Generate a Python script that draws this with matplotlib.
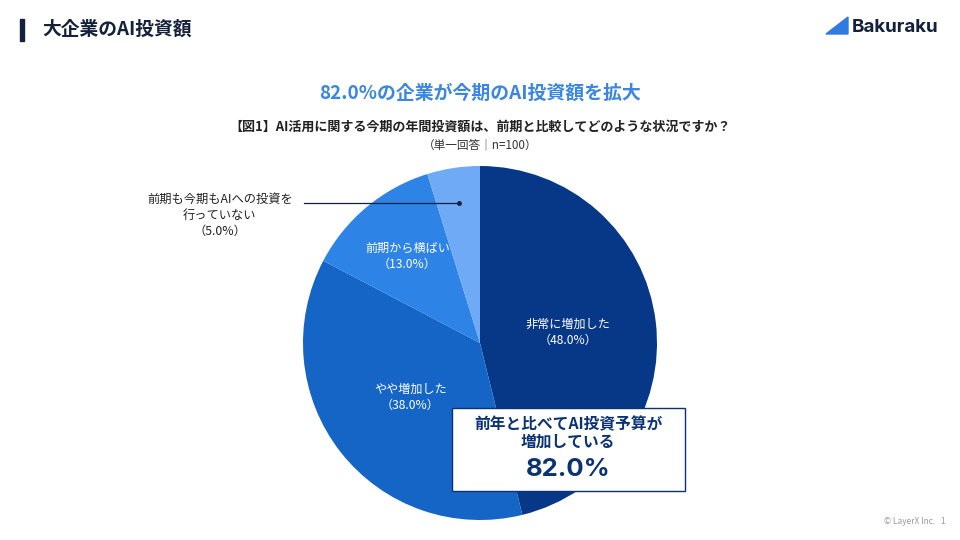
import matplotlib
matplotlib.use("Agg")
import matplotlib.pyplot as plt
from matplotlib.patches import Rectangle, Polygon
import numpy as np

plt.rcParams['font.family'] = ['Noto Sans CJK JP', 'DejaVu Sans']

# データ
categories = ["非常に増加した", "やや増加した", "前期から横ばい", "前期も今期もAIへの投資を\n行っていない"]
values = [48.0, 38.0, 13.0, 5.0]
colors = ["#073887", "#1565C6", "#2D84E6", "#6FAAF7"]
increase_total = 82.0

navy = "#14213D"
box_navy = "#0B3275"

fig = plt.figure(figsize=(9.6, 5.4), dpi=100)

# ヘッダー
fig.patches.append(Rectangle((20 / 960, 1 - 41 / 540), 4 / 960, 22 / 540,
                             transform=fig.transFigure, color=navy))
fig.text(42 / 960, 1 - 29 / 540, "大企業のAI投資額", fontsize=13.5, fontweight="bold",
         color=navy, va="center", ha="left")

# ロゴ
tri = Polygon([(826 / 960, 1 - 34 / 540), (848 / 960, 1 - 17 / 540), (848 / 960, 1 - 34 / 540)],
              closed=True, transform=fig.transFigure, color="#2F7BE0")
fig.patches.append(tri)
fig.text(852 / 960, 1 - 28 / 540, "Bakuraku", fontsize=13.5, fontweight="bold",
         color=navy, va="center", ha="left", family="Inter")

# タイトル
fig.text(0.5, 1 - 93 / 540, f"{increase_total:.1f}%の企業が今期のAI投資額を拡大",
         fontsize=13.6, fontweight="bold", color="#3A86E0", ha="center", va="center")
fig.text(0.5, 1 - 127 / 540, "【図1】AI活用に関する今期の年間投資額は、前期と比較してどのような状況ですか？",
         fontsize=9.4, fontweight="bold", color="#222222", ha="center", va="center")
fig.text(0.5, 1 - 145 / 540, "（単一回答｜n=100）", fontsize=8.4, color="#333333",
         ha="center", va="center")

# 円グラフ
ax = fig.add_axes([0.315625, 0.037, 0.36875, 0.6556])
wedges, _ = ax.pie(values, colors=colors, startangle=90, counterclock=False,
                   wedgeprops=dict(linewidth=0))
ax.set_xlim(-1, 1)
ax.set_ylim(-1, 1)
ax.set_aspect("equal")
ax.axis("off")

label_r = [0.5, 0.5, 0.64, 0.8]
for i, w in enumerate(wedges):
    mid = np.deg2rad((w.theta1 + w.theta2) / 2)
    x, y = label_r[i] * np.cos(mid), label_r[i] * np.sin(mid)
    if i < 3:
        ax.text(x, y, f"{categories[i]}\n（{values[i]:.1f}%）", ha="center", va="center",
                color="white", fontsize=8.7, linespacing=1.3)
    else:
        ax.plot([-0.994, x], [y, y], color=navy, lw=0.9, clip_on=False)
        ax.plot([x], [y], "o", color=navy, ms=2.5, clip_on=False)
        ax.text(-1.47, y - 0.07, f"{categories[i]}\n（{values[i]:.1f}%）", ha="center",
                va="center", color="#222222", fontsize=8.8, linespacing=1.3, clip_on=False)

# 強調ボックス
fig.patches.append(Rectangle((452 / 960, 1 - 491 / 540), 233 / 960, 83 / 540,
                             transform=fig.transFigure, facecolor="white",
                             edgecolor=box_navy, lw=1, zorder=5))
fig.text(568 / 960, 1 - 433 / 540, "前年と比べてAI投資予算が\n増加している", fontsize=11.3,
         fontweight="bold", color=box_navy, ha="center", va="center", linespacing=1.12,
         zorder=6)
fig.text(568 / 960, 1 - 469 / 540, f"{increase_total:.1f}%", fontsize=18.5, fontweight="bold",
         color=box_navy, ha="center", va="center", zorder=6, family="Inter")

# フッター
fig.text(945 / 960, 1 - 521 / 540, "© LayerX Inc.   1", fontsize=6, color="#999999",
         ha="right", va="center")

fig.savefig("out.png", dpi=100)
